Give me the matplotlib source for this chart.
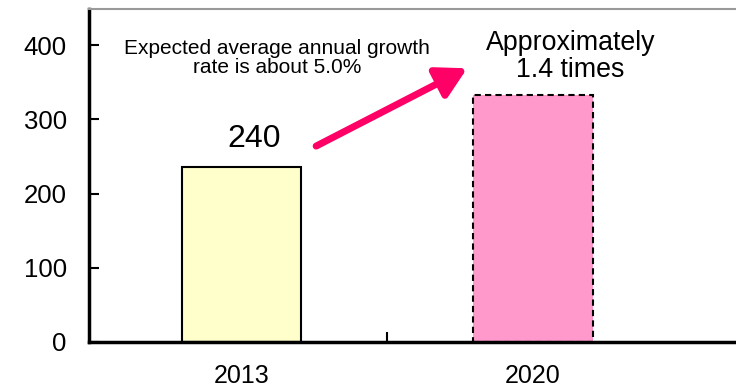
import matplotlib
matplotlib.use("Agg")
import matplotlib.pyplot as plt

# data
years = ["2013", "2020"]
values = [236, 333]
bar_label = "240"
y_ticks = [0, 100, 200, 300, 400]
note_text = "Expected average annual growth\nrate is about 5.0%"
ratio_text = "Approximately\n1.4 times"

plt.rcParams["font.family"] = ["Liberation Sans", "DejaVu Sans"]

fig = plt.figure(figsize=(7.36, 3.88), dpi=100)
ax = fig.add_axes([0.1209, 0.1193, 0.8791, 0.8575])

x = [0, 1]
ax.bar(x[0], values[0], width=0.41, color="#FFFFCC", edgecolor="black", linewidth=1.5)
ax.bar(x[1], values[1], width=0.41, color="#FF99CC", edgecolor="black", linewidth=1.5,
       linestyle=(0, (3, 2)))

ax.set_xlim(-0.523, 1.696)
ax.set_ylim(0, 449)
ax.set_yticks(y_ticks)
ax.set_xticks([0.5])
ax.set_xticklabels([""])
ax.tick_params(axis="y", direction="in", length=7, width=1.5, labelsize=18.5, pad=16)
ax.tick_params(axis="x", direction="in", length=7, width=1.5)

for i, label in enumerate(years):
    ax.text(x[i], -46, label, ha="center", va="center", fontsize=18)

ax.spines["left"].set_linewidth(2.5)
ax.spines["bottom"].set_linewidth(2.5)
ax.spines["top"].set_color("#999999")
ax.spines["top"].set_linewidth(1.5)
ax.spines["right"].set_visible(False)

ax.text(0.043, 274, bar_label, ha="center", va="center", fontsize=23)
ax.text(0.123, 383, note_text, ha="center", va="center", fontsize=15, linespacing=1.0)
ax.text(1.129, 385, ratio_text, ha="center", va="center", fontsize=19.3, linespacing=1.05)

ax.annotate("", xy=(0.774, 369), xytext=(0.256, 264),
            arrowprops=dict(arrowstyle="-|>,head_length=1.8,head_width=1.0",
                            color="#FF0066", lw=5, shrinkA=0, shrinkB=0))

fig.savefig("out.png", dpi=100)
plt.close(fig)
